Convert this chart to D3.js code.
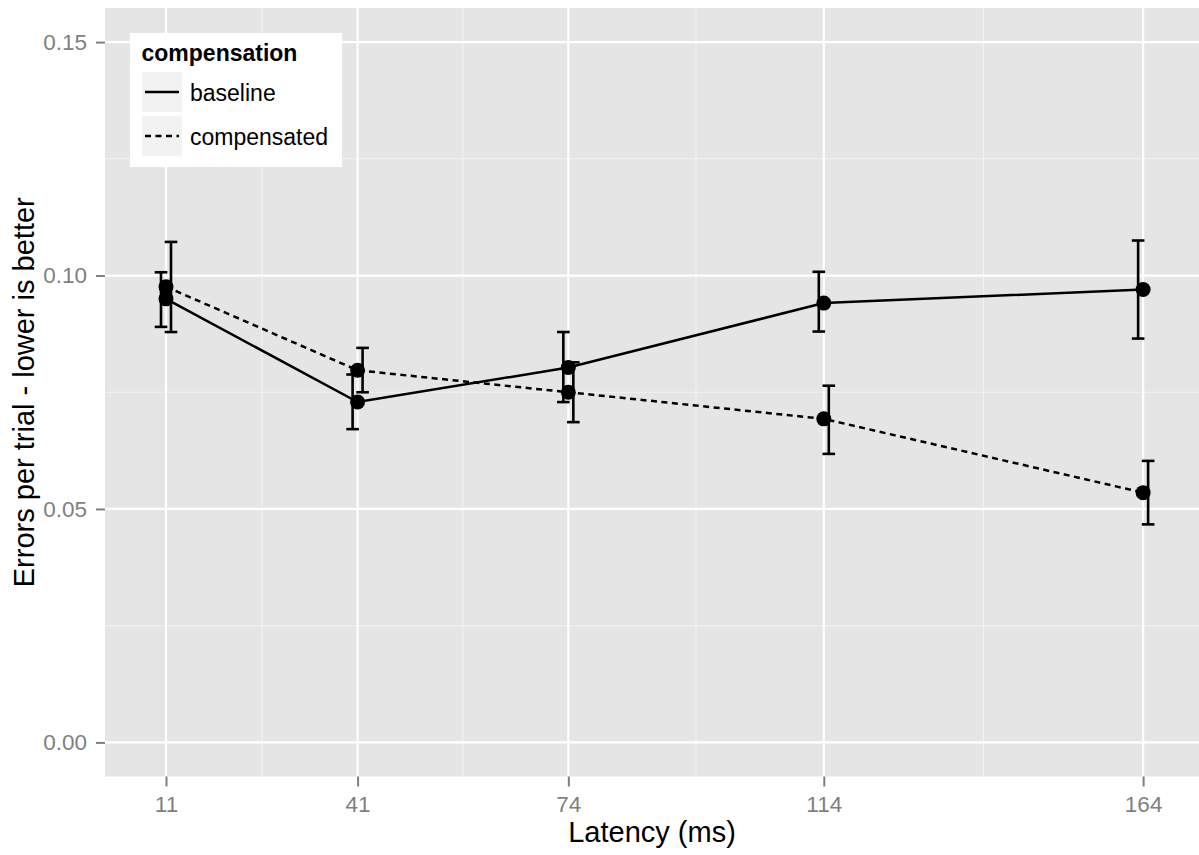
<!DOCTYPE html>
<html>
<head>
<meta charset="utf-8">
<script src="https://cdn.jsdelivr.net/npm/d3@7"></script>
<style>
  html, body { margin: 0; padding: 0; background: #fff; }
  svg { display: block; font-family: "Liberation Sans", Arial, sans-serif; }
</style>
</head>
<body>
<svg id="chart" width="1199" height="855"></svg>
<script>
// Error rate per trial by latency, for the two compensation conditions
const latency = [11, 41, 74, 114, 164];

const baselineMean = [0.0950, 0.0729, 0.0803, 0.0941, 0.0970];
const baselineLow  = [0.0890, 0.0671, 0.0729, 0.0880, 0.0865];
const baselineHigh = [0.1007, 0.0788, 0.0879, 0.1008, 0.1075];

const compensatedMean = [0.0976, 0.0797, 0.0750, 0.0693, 0.0535];
const compensatedLow  = [0.0879, 0.0750, 0.0686, 0.0618, 0.0467];
const compensatedHigh = [0.1072, 0.0845, 0.0814, 0.0764, 0.0603];

const yTicks = [0, 0.05, 0.10, 0.15];
const yMinor = [0.025, 0.075, 0.125];
const xTicks = latency;

const groups = [
  { name: "baseline",    mean: baselineMean,    low: baselineLow,    high: baselineHigh,    dash: null,    dodge: -5 },
  { name: "compensated", mean: compensatedMean, low: compensatedLow, high: compensatedHigh, dash: "6,4.5", dodge: 5 }
];

const svg = d3.select("#chart");
const panel = { left: 105, right: 1199, top: 8, bottom: 776.5 };

const x = d3.scaleLinear().domain([1.45, 172.75]).range([panel.left, panel.right]);
const y = d3.scaleLinear().domain([-0.0073, 0.1573]).range([panel.bottom, panel.top]);

// panel background
svg.append("rect")
  .attr("x", panel.left).attr("y", panel.top)
  .attr("width", panel.right - panel.left).attr("height", panel.bottom - panel.top)
  .attr("fill", "#e5e5e5");

// minor grid: midpoints between x breaks
const xMinor = d3.pairs(xTicks).map(([a, b]) => (a + b) / 2);
const grid = svg.append("g");
grid.selectAll(".xminor").data(xMinor).join("line")
  .attr("x1", d => x(d)).attr("x2", d => x(d))
  .attr("y1", panel.top).attr("y2", panel.bottom)
  .attr("stroke", "#f2f2f2").attr("stroke-width", 1.1);
grid.selectAll(".yminor").data(yMinor).join("line")
  .attr("y1", d => y(d)).attr("y2", d => y(d))
  .attr("x1", panel.left).attr("x2", panel.right)
  .attr("stroke", "#f2f2f2").attr("stroke-width", 1.1);
// major grid
grid.selectAll(".xmajor").data(xTicks).join("line")
  .attr("x1", d => x(d)).attr("x2", d => x(d))
  .attr("y1", panel.top).attr("y2", panel.bottom)
  .attr("stroke", "#ffffff").attr("stroke-width", 2.2);
grid.selectAll(".ymajor").data(yTicks).join("line")
  .attr("y1", d => y(d)).attr("y2", d => y(d))
  .attr("x1", panel.left).attr("x2", panel.right)
  .attr("stroke", "#ffffff").attr("stroke-width", 2.2);

// axes
const xAxis = svg.append("g")
  .attr("transform", `translate(0,${panel.bottom})`)
  .call(d3.axisBottom(x).tickValues(xTicks).tickFormat(d3.format("d")).tickSizeInner(10).tickSizeOuter(0).tickPadding(10));
const yAxis = svg.append("g")
  .attr("transform", `translate(${panel.left},0)`)
  .call(d3.axisLeft(y).tickValues(yTicks).tickFormat(d3.format(".2f")).tickSizeInner(9).tickSizeOuter(0).tickPadding(9));
[xAxis, yAxis].forEach(g => {
  g.select(".domain").remove();
  g.selectAll(".tick line").attr("stroke", "#7f7f7f").attr("stroke-width", 2);
  g.selectAll(".tick text").attr("fill", "#7f7f7f").attr("font-size", 22.5)
    .attr("font-family", "Liberation Sans, Arial, sans-serif");
});

// axis titles
svg.append("text")
  .attr("x", (panel.left + panel.right) / 2).attr("y", 842)
  .attr("text-anchor", "middle").attr("font-size", 29).attr("fill", "#000")
  .text("Latency (ms)");
svg.append("text")
  .attr("transform", `translate(34,${(panel.top + panel.bottom) / 2}) rotate(-90)`)
  .attr("text-anchor", "middle").attr("font-size", 29).attr("fill", "#000")
  .text("Errors per trial - lower is better");

// series lines
const line = d3.line().x(d => x(d.lat)).y(d => y(d.mean));
const plot = svg.append("g");
groups.forEach(g => {
  const pts = latency.map((lat, i) => ({ lat, mean: g.mean[i], low: g.low[i], high: g.high[i] }));
  plot.append("path")
    .datum(pts)
    .attr("d", line)
    .attr("fill", "none").attr("stroke", "#000").attr("stroke-width", 2.5)
    .attr("stroke-dasharray", g.dash);
  g.pts = pts;
});

// error bars (dodged) 
const capHalf = 6.3;
groups.forEach(g => {
  const eb = plot.append("g").selectAll("g").data(g.pts).join("g")
    .attr("transform", d => `translate(${x(d.lat) + g.dodge},0)`);
  eb.append("line").attr("x1", 0).attr("x2", 0)
    .attr("y1", d => y(d.low)).attr("y2", d => y(d.high))
    .attr("stroke", "#000").attr("stroke-width", 2.6);
  eb.append("line").attr("x1", -capHalf).attr("x2", capHalf)
    .attr("y1", d => y(d.low)).attr("y2", d => y(d.low))
    .attr("stroke", "#000").attr("stroke-width", 2.6);
  eb.append("line").attr("x1", -capHalf).attr("x2", capHalf)
    .attr("y1", d => y(d.high)).attr("y2", d => y(d.high))
    .attr("stroke", "#000").attr("stroke-width", 2.6);
});

// points
groups.forEach(g => {
  plot.append("g").selectAll("circle").data(g.pts).join("circle")
    .attr("cx", d => x(d.lat)).attr("cy", d => y(d.mean))
    .attr("r", 7.5).attr("fill", "#000");
});

// legend
const legend = svg.append("g");
legend.append("rect").attr("x", 130).attr("y", 33).attr("width", 212).attr("height", 134).attr("fill", "#fff");
legend.append("text").attr("x", 141.5).attr("y", 61)
  .attr("font-size", 23).attr("font-weight", "bold").attr("fill", "#000")
  .text("compensation");
const keys = legend.selectAll(".key").data(groups).join("g")
  .attr("transform", (d, i) => `translate(142,${72 + i * 44})`);
keys.append("rect").attr("width", 40).attr("height", 40).attr("fill", "#f2f2f2");
keys.append("line").attr("x1", 3).attr("x2", 37).attr("y1", 20).attr("y2", 20)
  .attr("stroke", "#000").attr("stroke-width", 2.5)
  .attr("stroke-dasharray", d => d.dash);
keys.append("text").attr("x", 48).attr("y", 28.5)
  .attr("font-size", 23).attr("fill", "#000")
  .text(d => d.name);
</script>
</body>
</html>
